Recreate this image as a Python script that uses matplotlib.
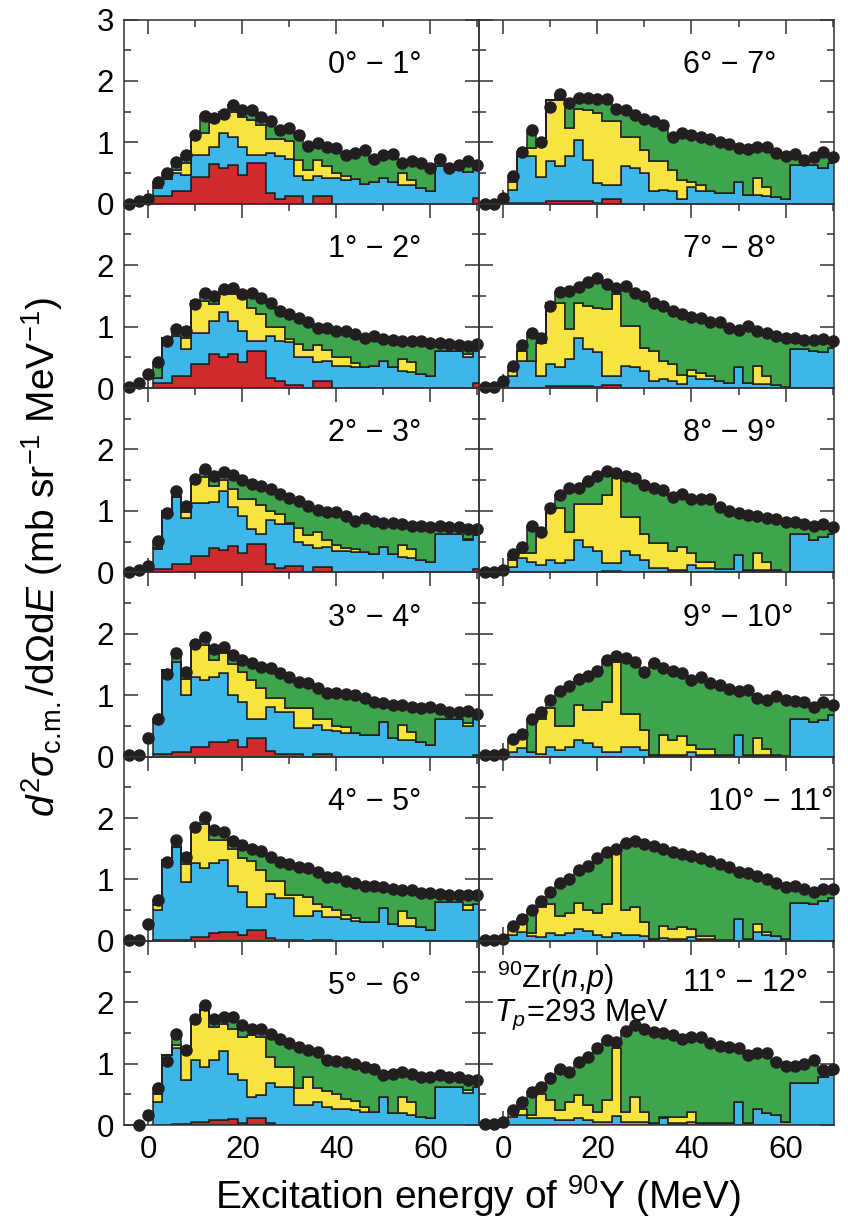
import numpy as np
import matplotlib.pyplot as plt
from matplotlib.ticker import MultipleLocator

plt.rcParams['font.family'] = ['Liberation Sans', 'DejaVu Sans']
plt.rcParams['mathtext.fontset'] = 'custom'
plt.rcParams['mathtext.rm'] = 'Liberation Sans'
plt.rcParams['mathtext.it'] = 'Liberation Sans:italic'
plt.rcParams['mathtext.bf'] = 'Liberation Sans:bold'

# data points at E = -4, -2, ..., 70 MeV
# stacked fit histograms: bins 1-3, 3-5, ..., 69-71 MeV
# red/blue/yellow arrays = upper edge of each stacked layer,
# green fills up to the data

# ---------- 0-1 deg ----------
data_0_1 = [0, 0.04, 0.08, 0.35, 0.5, 0.68, 0.8, 1.12, 1.43, 1.4, 1.46, 1.6, 1.53, 1.52, 1.42, 1.35, 1.2, 1.24, 1.12,
            0.94, 0.99, 0.93, 0.9, 0.8, 0.82, 0.88, 0.73, 0.8, 0.81, 0.67, 0.69, 0.67, 0.58, 0.73, 0.58, 0.63, 0.69, 0.63]
red_0_1 = [0.12, 0.12, 0.2, 0.2, 0.44, 0.44, 0.64, 0.58, 0.63, 0.47, 0.66, 0.66, 0.18, 0.08, 0.13, 0.13, 0, 0.13,
           0.13, 0, 0, 0, 0, 0, 0, 0, 0, 0, 0, 0, 0, 0, 0, 0, 0.1]
blue_0_1 = [0.25, 0.40, 0.50, 0.47, 0.80, 0.80, 0.93, 1.15, 1.09, 0.93, 0.80, 0.80, 0.82, 0.77, 0.73, 0.45, 0.38, 0.45,
            0.42, 0.42, 0.38, 0.40, 0.32, 0.35, 0.42, 0.35, 0.30, 0.30, 0.25, 0.20, 0.62, 0.58, 0.55, 0.52, 0.55]
yellow_0_1 = [0.28, 0.40, 0.55, 0.66, 1.15, 1.15, 1.34, 1.50, 1.50, 1.42, 1.37, 1.28, 1.05, 1.05, 1.02, 0.72, 0.55,
              0.72, 0.62, 0.50, 0.45, 0.40, 0.32, 0.35, 0.42, 0.35, 0.50, 0.38, 0.25, 0.20, 0.62, 0.58, 0.55, 0.52, 0.55]

# ---------- 1-2 deg ----------
data_1_2 = [0.02, 0.08, 0.23, 0.42, 0.77, 0.96, 0.93, 1.37, 1.55, 1.50, 1.61, 1.63, 1.53, 1.54, 1.47, 1.39, 1.25, 1.20,
            1.14, 1.08, 0.98, 0.98, 0.93, 0.93, 0.88, 0.82, 0.85, 0.80, 0.78, 0.77, 0.77, 0.76, 0.74, 0.74, 0.72, 0.70,
            0.69, 0.72]
red_1_2 = [0.09, 0.09, 0.2, 0.2, 0.39, 0.39, 0.55, 0.5, 0.55, 0.42, 0.6, 0.6, 0.17, 0.12, 0.05, 0.05, 0, 0.12, 0.12,
           0, 0, 0, 0, 0, 0, 0, 0, 0, 0, 0, 0, 0, 0, 0, 0.08]
blue_1_2 = [0.17, 0.82, 0.85, 0.63, 0.9, 0.9, 1.09, 1.23, 1.09, 0.93, 0.77, 0.77, 0.85, 0.77, 0.75, 0.5, 0.5, 0.42,
            0.44, 0.36, 0.36, 0.34, 0.34, 0.36, 0.44, 0.34, 0.28, 0.26, 0.23, 0.2, 0.61, 0.61, 0.61, 0.5, 0.61]
yellow_1_2 = [0.17, 0.82, 0.85, 0.82, 1.42, 1.42, 1.37, 1.53, 1.53, 1.47, 1.3, 1.2, 0.99, 0.99, 0.8, 0.72, 0.62, 0.7,
              0.62, 0.5, 0.5, 0.4, 0.34, 0.36, 0.44, 0.34, 0.48, 0.42, 0.23, 0.2, 0.61, 0.61, 0.61, 0.55, 0.61]

# ---------- 2-3 deg ----------
data_2_3 = [0.0, 0.04, 0.1, 0.51, 0.97, 1.32, 1.08, 1.52, 1.68, 1.57, 1.63, 1.59, 1.51, 1.43, 1.40, 1.35, 1.27, 1.21,
            1.16, 1.08, 1.01, 0.98, 0.98, 0.92, 0.83, 0.89, 0.83, 0.81, 0.80, 0.78, 0.75, 0.75, 0.73, 0.75, 0.73, 0.73,
            0.70, 0.71]
red_2_3 = [0.05, 0.05, 0.13, 0.13, 0.27, 0.27, 0.4, 0.37, 0.43, 0.32, 0.46, 0.46, 0.13, 0.07, 0.1, 0.1, 0, 0.09, 0.09,
           0, 0, 0, 0, 0, 0, 0, 0, 0, 0, 0, 0, 0, 0, 0, 0.05]
blue_2_3 = [0.38, 1.0, 1.22, 0.89, 1.13, 1.13, 1.15, 1.32, 1.07, 0.92, 0.7, 0.62, 0.85, 0.78, 0.78, 0.5, 0.45, 0.4,
            0.42, 0.35, 0.35, 0.33, 0.33, 0.3, 0.42, 0.3, 0.25, 0.23, 0.2, 0.17, 0.62, 0.62, 0.62, 0.52, 0.6]
yellow_2_3 = [0.4, 1.0, 1.22, 0.98, 1.55, 1.55, 1.4, 1.5, 1.35, 1.2, 1.2, 1.1, 1.0, 0.95, 0.8, 0.72, 0.6, 0.65, 0.52,
              0.45, 0.4, 0.38, 0.33, 0.3, 0.42, 0.3, 0.45, 0.38, 0.2, 0.17, 0.62, 0.62, 0.62, 0.55, 0.6]

# ---------- 3-4 deg ----------
data_3_4 = [0.02, 0.03, 0.31, 0.62, 1.35, 1.69, 1.38, 1.84, 1.95, 1.75, 1.79, 1.65, 1.58, 1.52, 1.46, 1.44, 1.36,
            1.30, 1.22, 1.19, 1.11, 1.03, 1.03, 1.02, 1.0, 0.95, 0.89, 0.87, 0.84, 0.84, 0.80, 0.79, 0.81, 0.77, 0.73,
            0.73, 0.74, 0.70]
red_3_4 = [0.04, 0.04, 0.08, 0.08, 0.16, 0.16, 0.24, 0.23, 0.27, 0.16, 0.3, 0.3, 0.09, 0.04, 0.05, 0.05, 0, 0.05,
           0.05, 0, 0, 0, 0, 0, 0, 0, 0, 0, 0, 0, 0, 0, 0, 0, 0.03]
blue_3_4 = [0.55, 1.41, 1.54, 1.0, 1.3, 1.25, 1.3, 1.36, 1.0, 0.89, 0.62, 0.62, 0.81, 0.73, 0.73, 0.46, 0.46, 0.51,
            0.43, 0.41, 0.38, 0.38, 0.35, 0.35, 0.57, 0.3, 0.27, 0.27, 0.24, 0.19, 0.62, 0.62, 0.62, 0.49, 0.62]
yellow_3_4 = [0.57, 1.41, 1.54, 1.27, 1.82, 1.82, 1.57, 1.68, 1.5, 1.38, 1.25, 1.12, 0.95, 0.95, 0.79, 0.79, 0.79,
              0.62, 0.62, 0.5, 0.48, 0.38, 0.35, 0.35, 0.57, 0.3, 0.52, 0.4, 0.24, 0.19, 0.62, 0.62, 0.62, 0.55, 0.62]

# ---------- 4-5 deg ----------
data_4_5 = [0.01, 0.01, 0.27, 0.66, 1.28, 1.65, 1.36, 1.86, 2.02, 1.81, 1.77, 1.63, 1.56, 1.50, 1.47, 1.36, 1.28,
            1.25, 1.21, 1.19, 1.12, 1.04, 1.04, 0.98, 0.94, 0.90, 0.90, 0.88, 0.85, 0.83, 0.82, 0.78, 0.78, 0.76, 0.74,
            0.74, 0.74, 0.74]
red_4_5 = [0.01, 0.01, 0.02, 0.02, 0.06, 0.06, 0.12, 0.14, 0.15, 0.09, 0.17, 0.17, 0.04, 0.02, 0.02, 0.02, 0, 0.02,
           0.02, 0, 0, 0, 0, 0, 0, 0, 0, 0, 0, 0, 0, 0, 0, 0, 0]
blue_4_5 = [0.5, 1.31, 1.53, 0.96, 1.26, 1.18, 1.26, 1.31, 0.9, 0.8, 0.55, 0.55, 0.76, 0.69, 0.69, 0.41, 0.41, 0.49,
            0.39, 0.39, 0.36, 0.33, 0.31, 0.31, 0.53, 0.28, 0.25, 0.25, 0.23, 0.17, 0.63, 0.63, 0.63, 0.5, 0.6]
yellow_4_5 = [0.58, 1.31, 1.53, 1.25, 1.85, 1.9, 1.65, 1.65, 1.5, 1.35, 1.3, 1.15, 0.98, 0.98, 0.75, 0.75, 0.72, 0.6,
              0.55, 0.5, 0.42, 0.38, 0.31, 0.31, 0.53, 0.28, 0.48, 0.38, 0.23, 0.17, 0.63, 0.63, 0.63, 0.58, 0.6]

# ---------- 5-6 deg ----------
data_5_6 = [np.nan, 0.0, 0.16, 0.6, 1.05, 1.49, 1.22, 1.73, 1.95, 1.73, 1.76, 1.76, 1.63, 1.57, 1.57, 1.49, 1.41,
            1.34, 1.27, 1.22, 1.19, 1.06, 1.05, 1.03, 1.0, 0.95, 0.92, 0.81, 0.84, 0.87, 0.84, 0.79, 0.78, 0.81, 0.78,
            0.78, 0.74, 0.73]
red_5_6 = [0, 0, 0.02, 0.02, 0.05, 0.05, 0.08, 0.08, 0.1, 0.03, 0.12, 0.12, 0.03, 0.01, 0, 0, 0, 0, 0, 0, 0, 0, 0, 0,
           0, 0, 0, 0, 0, 0, 0, 0, 0, 0, 0]
blue_5_6 = [0.38, 1.14, 1.25, 0.73, 1.06, 0.95, 1.06, 1.21, 0.84, 0.73, 0.46, 0.49, 0.69, 0.62, 0.62, 0.32, 0.32,
            0.38, 0.3, 0.27, 0.27, 0.24, 0.22, 0.22, 0.46, 0.19, 0.19, 0.16, 0.14, 0.11, 0.62, 0.62, 0.62, 0.53, 0.62]
yellow_5_6 = [0.5, 1.14, 1.3, 1.25, 1.7, 1.87, 1.6, 1.65, 1.57, 1.44, 1.46, 1.44, 1.11, 0.95, 0.95, 0.6, 0.78, 0.6,
              0.55, 0.5, 0.42, 0.4, 0.3, 0.22, 0.46, 0.19, 0.46, 0.38, 0.14, 0.11, 0.62, 0.62, 0.62, 0.58, 0.62]

# ---------- 6-7 deg ----------
data_6_7 = [0, 0, 0.09, 0.45, 0.85, 1.2, 1.01, 1.57, 1.79, 1.64, 1.73, 1.72, 1.7, 1.7, 1.55, 1.53, 1.45, 1.38, 1.34,
            1.28, 1.08, 1.15, 1.12, 1.09, 1.05, 1.01, 0.98, 0.9, 0.89, 0.92, 0.92, 0.82, 0.78, 0.81, 0.72, 0.76, 0.85,
            0.76]
red_6_7 = [0.01, 0.01, 0.01, 0.02, 0.05, 0.05, 0.05, 0.05, 0.05, 0.01, 0.07, 0.07, 0, 0, 0, 0, 0, 0, 0, 0, 0, 0, 0,
           0, 0, 0, 0, 0, 0, 0, 0, 0, 0, 0, 0]
blue_6_7 = [0.23, 0.77, 0.77, 0.44, 0.69, 0.61, 0.77, 1.04, 0.72, 0.34, 0.31, 0.31, 0.61, 0.58, 0.5, 0.2, 0.23, 0.2,
            0.07, 0.28, 0.2, 0.2, 0.17, 0.17, 0.36, 0.15, 0.15, 0.13, 0.11, 0.08, 0.63, 0.63, 0.63, 0.58, 0.66]
yellow_6_7 = [0.36, 0.85, 0.9, 1.0, 1.69, 1.69, 1.23, 1.55, 1.52, 1.47, 1.34, 1.34, 1.09, 1.09, 0.88, 0.69, 0.69,
              0.55, 0.39, 0.36, 0.3, 0.2, 0.17, 0.17, 0.36, 0.15, 0.42, 0.28, 0.11, 0.08, 0.63, 0.63, 0.63, 0.58, 0.66]

# ---------- 7-8 deg ----------
data_7_8 = [0.02, 0.02, 0.12, 0.36, 0.7, 0.9, 0.82, 1.34, 1.57, 1.58, 1.65, 1.73, 1.79, 1.69, 1.63, 1.66, 1.55, 1.5,
            1.39, 1.33, 1.25, 1.2, 1.15, 1.14, 1.08, 1.07, 0.98, 0.94, 1.01, 0.93, 0.9, 0.85, 0.82, 0.82, 0.78, 0.78,
            0.8, 0.77]
red_7_8 = [0, 0, 0, 0, 0.03, 0.03, 0.03, 0.03, 0.03, 0.01, 0.05, 0.05, 0, 0, 0, 0, 0, 0, 0, 0, 0, 0, 0, 0, 0, 0, 0,
           0, 0, 0, 0, 0, 0, 0, 0]
blue_7_8 = [0.2, 0.44, 0.44, 0.2, 0.39, 0.34, 0.47, 0.82, 0.63, 0.58, 0.2, 0.2, 0.36, 0.34, 0.28, 0.12, 0.15, 0.12,
            0.07, 0.2, 0.15, 0.15, 0.12, 0.09, 0.34, 0.09, 0.07, 0.07, 0.05, 0.02, 0.63, 0.63, 0.6, 0.58, 0.66]
yellow_7_8 = [0.28, 0.6, 0.44, 0.74, 1.39, 1.39, 0.96, 1.39, 1.34, 1.31, 1.28, 1.53, 1.01, 1.01, 0.66, 0.6, 0.44,
              0.39, 0.22, 0.3, 0.25, 0.2, 0.12, 0.09, 0.34, 0.09, 0.36, 0.2, 0.05, 0.02, 0.63, 0.63, 0.6, 0.58, 0.66]

# ---------- 8-9 deg ----------
data_8_9 = [0.01, 0.01, 0.03, 0.3, 0.42, 0.75, 0.66, 1.04, 1.26, 1.37, 1.37, 1.48, 1.56, 1.65, 1.61, 1.56, 1.53,
            1.42, 1.38, 1.34, 1.23, 1.28, 1.2, 1.19, 1.2, 1.07, 1.0, 0.96, 0.93, 0.91, 0.88, 0.86, 0.82, 0.82, 0.79,
            0.75, 0.79, 0.73]
red_8_9 = [0, 0, 0, 0, 0.01, 0.01, 0.01, 0.01, 0.01, 0.01, 0.02, 0.02, 0, 0, 0, 0, 0, 0, 0, 0, 0, 0, 0, 0, 0, 0, 0,
           0, 0, 0, 0, 0, 0, 0, 0]
blue_8_9 = [0.09, 0.23, 0.17, 0.12, 0.2, 0.15, 0.2, 0.53, 0.42, 0.34, 0.15, 0.15, 0.34, 0.28, 0.2, 0.07, 0.07, 0.04,
            0.04, 0.12, 0.07, 0.07, 0.06, 0.05, 0.28, 0.04, 0.03, 0.03, 0.03, 0.01, 0.63, 0.63, 0.53, 0.58, 0.63]
yellow_8_9 = [0.2, 0.31, 0.31, 0.6, 1.04, 1.04, 0.66, 1.12, 1.12, 1.12, 1.26, 1.53, 0.9, 0.9, 0.63, 0.48, 0.48, 0.34,
              0.42, 0.31, 0.17, 0.17, 0.06, 0.05, 0.28, 0.04, 0.31, 0.16, 0.03, 0.01, 0.63, 0.63, 0.53, 0.58, 0.63]

# ---------- 9-10 deg ----------
data_9_10 = [0.02, 0.02, 0.05, 0.29, 0.36, 0.61, 0.73, 0.92, 1.06, 1.15, 1.27, 1.31, 1.39, 1.58, 1.64, 1.6, 1.54,
             1.38, 1.52, 1.45, 1.39, 1.36, 1.25, 1.3, 1.19, 1.17, 1.1, 1.07, 1.08, 0.95, 0.92, 0.98, 0.92, 0.9, 0.89,
             0.81, 0.89, 0.84]
red_9_10 = [0, 0, 0, 0, 0, 0, 0, 0, 0, 0, 0, 0, 0, 0, 0, 0, 0, 0, 0, 0, 0, 0, 0, 0, 0, 0, 0, 0, 0, 0, 0, 0, 0, 0, 0]
blue_9_10 = [0.08, 0.14, 0.08, 0.05, 0.16, 0.11, 0.16, 0.27, 0.22, 0.16, 0.08, 0.08, 0.16, 0.15, 0.11, 0.03, 0.03,
             0.03, 0.02, 0.08, 0.03, 0.03, 0.02, 0.02, 0.35, 0.03, 0.02, 0.02, 0.02, 0.01, 0.62, 0.62, 0.57, 0.6, 0.68]
yellow_9_10 = [0.24, 0.3, 0.08, 0.62, 0.79, 0.49, 0.49, 0.84, 0.76, 0.76, 0.89, 1.54, 0.7, 0.7, 0.43, 0.03, 0.35,
               0.27, 0.33, 0.19, 0.12, 0.12, 0.02, 0.02, 0.35, 0.03, 0.3, 0.12, 0.02, 0.01, 0.62, 0.62, 0.57, 0.6,
               0.68]

# ---------- 10-11 deg ----------
data_10_11 = [0.01, 0.01, 0.03, 0.25, 0.35, 0.5, 0.65, 0.8, 0.95, 1.0, 1.15, 1.22, 1.35, 1.45, 1.5, 1.6, 1.62, 1.58,
              1.55, 1.5, 1.45, 1.42, 1.38, 1.35, 1.3, 1.25, 1.2, 1.12, 1.1, 1.05, 1.0, 0.95, 0.88, 0.9, 0.85, 0.8,
              0.85, 0.85]
red_10_11 = [0, 0, 0, 0, 0, 0, 0, 0, 0, 0, 0, 0, 0, 0, 0, 0, 0, 0, 0, 0, 0, 0, 0, 0, 0, 0, 0, 0, 0, 0, 0, 0, 0, 0, 0]
blue_10_11 = [0.1, 0.14, 0.08, 0.06, 0.12, 0.1, 0.12, 0.2, 0.16, 0.1, 0.06, 0.12, 0.1, 0.1, 0.08, 0.03, 0.05, 0.03,
              0.03, 0.06, 0.03, 0.03, 0.02, 0.02, 0.36, 0.03, 0.15, 0.1, 0.08, 0.03, 0.62, 0.62, 0.6, 0.65, 0.7]
yellow_10_11 = [0.24, 0.28, 0.12, 0.55, 0.6, 0.4, 0.45, 0.62, 0.5, 0.45, 0.6, 1.5, 0.5, 0.55, 0.3, 0.03, 0.25, 0.2,
                0.22, 0.2, 0.08, 0.08, 0.02, 0.02, 0.36, 0.03, 0.28, 0.15, 0.08, 0.03, 0.62, 0.62, 0.6, 0.65, 0.7]

# ---------- 11-12 deg ----------
data_11_12 = [0.02, 0.02, 0.05, 0.24, 0.38, 0.54, 0.62, 0.76, 0.92, 0.87, 1.03, 1.11, 1.25, 1.38, 1.36, 1.54, 1.63,
              1.57, 1.52, 1.5, 1.46, 1.41, 1.43, 1.44, 1.34, 1.29, 1.27, 1.25, 1.14, 1.17, 1.17, 1.03, 0.96, 0.96,
              1.0, 1.06, 0.89, 0.92]
red_11_12 = [0, 0, 0, 0, 0, 0, 0, 0, 0, 0, 0, 0, 0, 0, 0, 0, 0, 0, 0, 0, 0, 0, 0, 0, 0, 0, 0, 0, 0, 0, 0, 0, 0, 0, 0]
blue_11_12 = [0.14, 0.16, 0.11, 0.11, 0.11, 0.08, 0.08, 0.11, 0.08, 0.05, 0.05, 0.15, 0.05, 0.05, 0.05, 0.04, 0.11,
              0.04, 0.04, 0.05, 0.04, 0.04, 0.03, 0.03, 0.38, 0.03, 0.27, 0.19, 0.16, 0.05, 0.68, 0.68, 0.68, 0.79,
              0.82]
yellow_11_12 = [0.22, 0.27, 0.16, 0.51, 0.41, 0.24, 0.38, 0.49, 0.32, 0.22, 0.41, 1.25, 0.22, 0.46, 0.22, 0.04, 0.14,
                0.14, 0.14, 0.22, 0.04, 0.04, 0.03, 0.03, 0.38, 0.03, 0.27, 0.19, 0.16, 0.05, 0.68, 0.68, 0.68, 0.79,
                0.82]

angle_labels_left = ['0° − 1°', '1° − 2°', '2° − 3°', '3° − 4°', '4° − 5°', '5° − 6°']
angle_labels_right = ['6° − 7°', '7° − 8°', '8° − 9°', '9° − 10°', '10° − 11°', '11° − 12°']

left_panels = [(data_0_1, red_0_1, blue_0_1, yellow_0_1),
               (data_1_2, red_1_2, blue_1_2, yellow_1_2),
               (data_2_3, red_2_3, blue_2_3, yellow_2_3),
               (data_3_4, red_3_4, blue_3_4, yellow_3_4),
               (data_4_5, red_4_5, blue_4_5, yellow_4_5),
               (data_5_6, red_5_6, blue_5_6, yellow_5_6)]
right_panels = [(data_6_7, red_6_7, blue_6_7, yellow_6_7),
                (data_7_8, red_7_8, blue_7_8, yellow_7_8),
                (data_8_9, red_8_9, blue_8_9, yellow_8_9),
                (data_9_10, red_9_10, blue_9_10, yellow_9_10),
                (data_10_11, red_10_11, blue_10_11, yellow_10_11),
                (data_11_12, red_11_12, blue_11_12, yellow_11_12)]

energy = np.arange(-4, 72, 2)
edges = np.arange(1, 73, 2)

layer_colors = ['#cf2a2c', '#3db6ea', '#f8e43e', '#3ea54c']
outline = '#231f20'

fig, axes = plt.subplots(6, 2, figsize=(8.48, 12.19), dpi=100)
fig.subplots_adjust(left=0.146, right=0.9835, top=0.984, bottom=0.077, wspace=0, hspace=0)

for col, (panels, labels) in enumerate([(left_panels, angle_labels_left), (right_panels, angle_labels_right)]):
    for row, ((data, red, blue, yellow), label) in enumerate(zip(panels, labels)):
        ax = axes[row, col]
        ax.set_facecolor('none')
        total = np.asarray(data, float)[3:]
        lower = np.zeros(len(edges) - 1)
        for top, c in zip([red, blue, yellow, total], layer_colors):
            top = np.maximum(np.asarray(top, float), lower)
            ax.stairs(top, edges, baseline=lower, fill=True, facecolor=c,
                      edgecolor=outline, linewidth=1.1, zorder=2)
            lower = top
        ax.plot(energy, data, 'o', color=outline, ms=8, clip_on=False, zorder=5)

        ax.set_xlim(-5.2, 70.3)
        ax.set_ylim(0, 3)
        ax.set_xticks([0, 20, 40, 60])
        ax.xaxis.set_minor_locator(MultipleLocator(10))
        ax.set_yticks([0, 1, 2, 3])
        ax.yaxis.set_minor_locator(MultipleLocator(0.5))
        ax.tick_params(which='both', direction='in', top=True, right=True, width=1.1, color='#333333')
        ax.tick_params(which='major', length=10, labelsize=22.5, pad=7)
        ax.tick_params(which='minor', length=5)
        for s in ax.spines.values():
            s.set_linewidth(1.1)
            s.set_color('#333333')

        if col == 0:
            ax.set_yticklabels(['0', '1', '2', '3' if row == 0 else ''])
        else:
            ax.set_yticklabels([])
        if row == 5:
            ax.set_xticklabels(['0', '20', '40', '60'])
        else:
            ax.set_xticklabels([])

        lx = 0.645 if label.startswith('10°') else 0.575
        ly = 0.73 if label.startswith('11°') else 0.71
        ax.text(lx, ly, label, transform=ax.transAxes, fontsize=22, ha='left', va='baseline')

axes[5, 1].text(0.05, 0.745, r'$^{90}$Zr($n$,$p$)', transform=axes[5, 1].transAxes,
                fontsize=22, ha='left', va='baseline')
axes[5, 1].text(0.043, 0.565, r'$T_p\!=\!$293 MeV', transform=axes[5, 1].transAxes,
                fontsize=22, ha='left', va='baseline')

fig.text(0.564, 0.008, r'Excitation energy of $^{90}$Y (MeV)', fontsize=28, ha='center', va='baseline')
fig.text(0.05, 0.543, r'$d^2\sigma_{\rm c.\!m.}/{\rm d}\Omega{\rm d}E$ (mb sr$^{-1}$ MeV$^{-1}$)',
         fontsize=28, rotation=90, ha='center', va='center')

fig.savefig('out.png', dpi=100, facecolor='white')
